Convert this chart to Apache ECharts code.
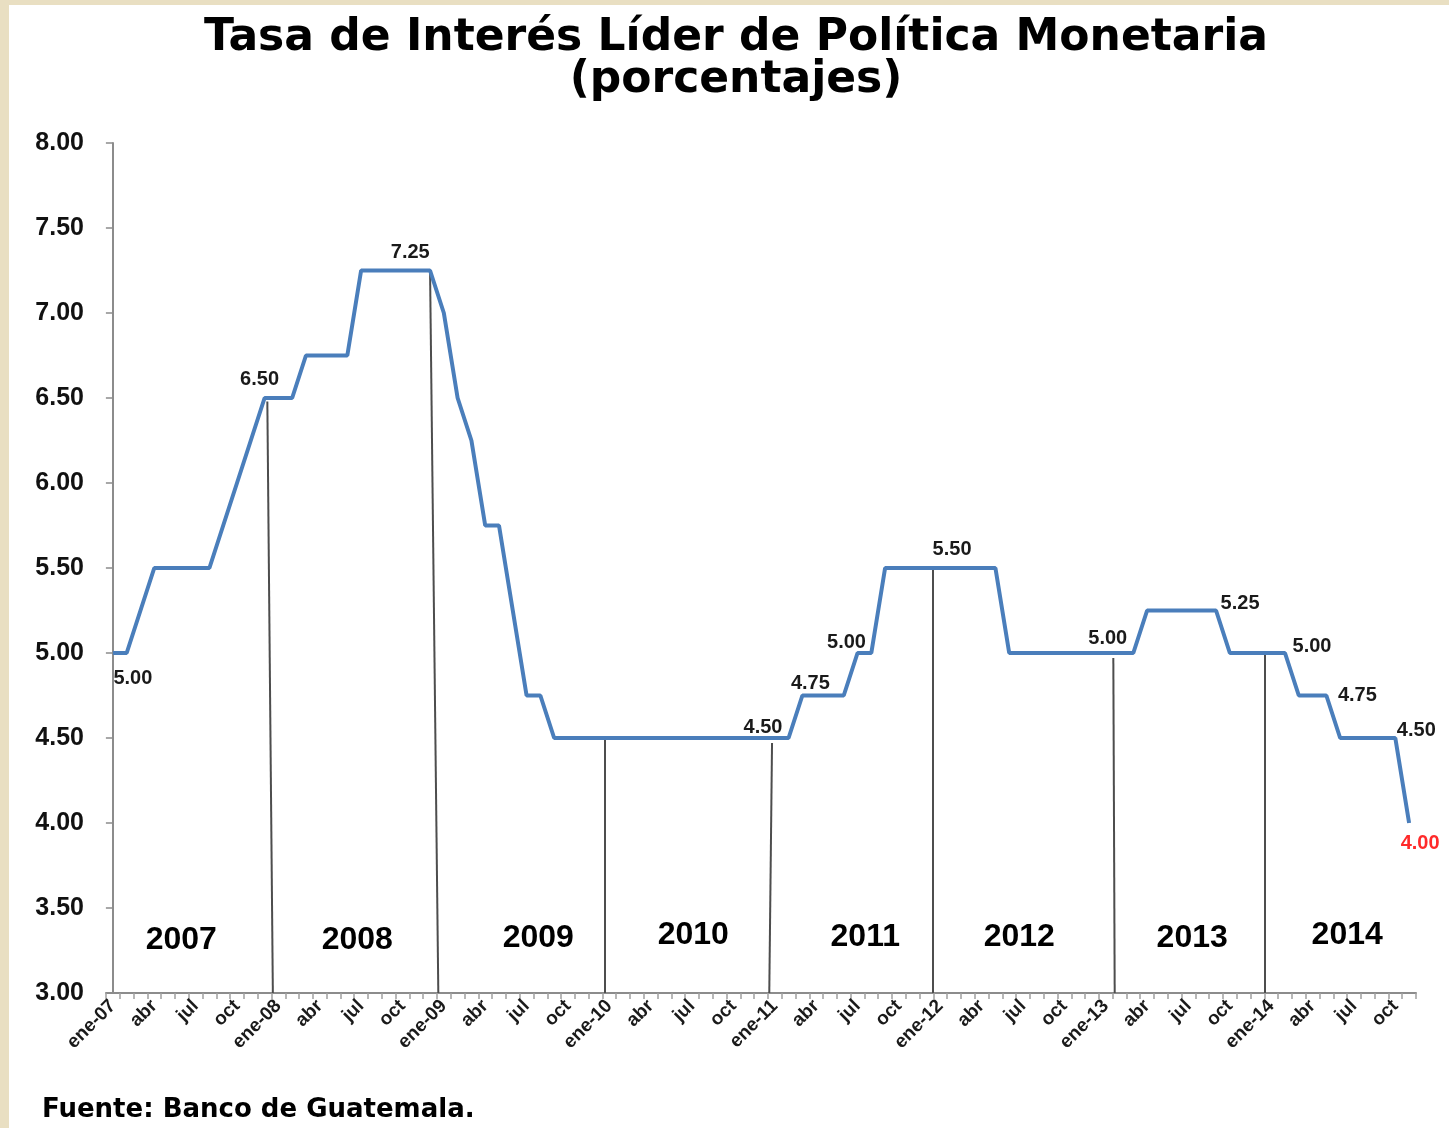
<!DOCTYPE html>
<html>
<head>
<meta charset="utf-8">
<script src="https://cdn.jsdelivr.net/npm/echarts@6/dist/echarts.min.js"></script>
<style>
  html, body { margin: 0; padding: 0; background: #e9dfc2; }
  #main { position: absolute; left: 9px; top: 5px; width: 1440px; height: 1123px; background: #fff; }
</style>
</head>
<body>
<div id="main"></div>
<script>
// meses y años del eje
var monthNames = ['ene', 'feb', 'mar', 'abr', 'may', 'jun', 'jul', 'ago', 'sep', 'oct', 'nov', 'dic'];
var yearNames = ['2007', '2008', '2009', '2010', '2011', '2012', '2013', '2014'];

// tasa lider mensual, ene-07 .. nov-14
var rates = [
    5.00, 5.00, 5.25, 5.50, 5.50, 5.50, 5.50, 5.50, 5.75, 6.00, 6.25, 6.50,
    6.50, 6.50, 6.75, 6.75, 6.75, 6.75, 7.25, 7.25, 7.25, 7.25, 7.25, 7.25,
    7.00, 6.50, 6.25, 5.75, 5.75, 5.25, 4.75, 4.75, 4.50, 4.50, 4.50, 4.50,
    4.50, 4.50, 4.50, 4.50, 4.50, 4.50, 4.50, 4.50, 4.50, 4.50, 4.50, 4.50,
    4.50, 4.50, 4.75, 4.75, 4.75, 4.75, 5.00, 5.00, 5.50, 5.50, 5.50, 5.50,
    5.50, 5.50, 5.50, 5.50, 5.50, 5.00, 5.00, 5.00, 5.00, 5.00, 5.00, 5.00,
    5.00, 5.00, 5.00, 5.25, 5.25, 5.25, 5.25, 5.25, 5.25, 5.00, 5.00, 5.00,
    5.00, 5.00, 4.75, 4.75, 4.75, 4.50, 4.50, 4.50, 4.50, 4.50, 4.00
];

// puntos con etiqueta y su desplazamiento
var labelIdx = [0, 11, 22, 47, 50, 54, 61, 72, 80, 85, 88, 93, 94];
var labelOffset = [[20, 25], [-5, -19], [-6, -18], [2, -11], [8, -12], [-11, -11], [-2, -19],
    [2, -15], [24, -7], [27, -7], [31, 0], [21, -8], [11, 20]];

// lineas divisorias de año (indice de mes arriba / abajo, valor arriba)
var sepTopX = [11.2, 23.0, 35.7, 47.8, 59.45, 72.55, 83.5];
var sepBotX = [11.6, 23.6, 35.7, 47.6, 59.45, 72.65, 83.5];
var sepTopY = [6.48, 7.25, 4.50, 4.47, 5.50, 4.97, 5.00];

// posicion de los rotulos de año (indice de mes)
var yearX = [4.96, 17.72, 30.85, 42.09, 54.56, 65.73, 78.27, 89.51];
var yearY = [3.31, 3.31, 3.32, 3.34, 3.33, 3.33, 3.32, 3.34];

var categories = [];
for (var i = 0; i < rates.length; i++) {
    var m = i % 12;
    var yy = String(7 + Math.floor(i / 12));
    if (yy.length < 2) yy = '0' + yy;
    categories.push(m === 0 ? monthNames[m] + '-' + yy : monthNames[m]);
}

var labelData = [];
for (var k = 0; k < labelIdx.length; k++) {
    var i = labelIdx[k];
    labelData.push({
        value: [i, rates[i]],
        label: {
            offset: labelOffset[k],
            color: i === rates.length - 1 ? '#ff2a2a' : '#1a1a1a'
        }
    });
}

var sepData = [];
for (var i = 0; i < sepTopX.length; i++) {
    sepData.push({ coords: [[sepTopX[i], sepTopY[i]], [sepBotX[i], 3]] });
}

var yearData = [];
for (var i = 0; i < yearNames.length; i++) {
    yearData.push([yearX[i], yearY[i], yearNames[i]]);
}

var myChart = echarts.init(document.getElementById('main'));

var option = {
    animation: false,
    backgroundColor: '#fff',
    graphic: [
        {
            type: 'text', x: 727, y: 34,
            style: {
                text: 'Tasa de Interés Líder de Política Monetaria',
                font: 'bold 44px "DejaVu Sans"', fill: '#000',
                align: 'center', verticalAlign: 'middle'
            }
        },
        {
            type: 'text', x: 727, y: 76,
            style: {
                text: '(porcentajes)',
                font: 'bold 44px "DejaVu Sans"', fill: '#000',
                align: 'center', verticalAlign: 'middle'
            }
        },
        {
            type: 'text', x: 33, y: 1105,
            style: {
                text: 'Fuente: Banco de Guatemala.',
                font: 'bold 26px "DejaVu Sans"', fill: '#000',
                align: 'left', verticalAlign: 'middle'
            }
        }
    ],
    grid: { left: 97, right: 33, top: 138, bottom: 135, containLabel: false, outerBoundsMode: 'none' },
    xAxis: [{
        type: 'category',
        data: categories,
        boundaryGap: true,
        axisLine: { lineStyle: { color: '#8c8c8c', width: 2 } },
        axisTick: { show: true, interval: 0, length: 6, lineStyle: { color: '#a0a0a0', width: 1.5 } },
        axisLabel: {
            interval: 2, rotate: 45, margin: 10,
            fontFamily: '"Liberation Sans", Arial', fontWeight: 'bold', fontSize: 19, color: '#1a1a1a'
        },
        splitLine: { show: false }
    }, {
        type: 'value',
        min: -0.5, max: rates.length - 0.5,
        show: false
    }],
    yAxis: {
        type: 'value',
        min: 3, max: 8, interval: 0.5,
        axisLine: { show: true, lineStyle: { color: '#8c8c8c', width: 2 } },
        axisTick: { show: true, length: 7, lineStyle: { color: '#8c8c8c', width: 1.5 } },
        axisLabel: {
            margin: 22,
            formatter: function (v) { return v.toFixed(2); },
            fontFamily: '"Liberation Sans", Arial', fontWeight: 'bold', fontSize: 25, color: '#111'
        },
        splitLine: { show: false }
    },
    series: [
        {
            name: 'separadores',
            type: 'lines',
            coordinateSystem: 'cartesian2d',
            xAxisIndex: 1,
            z: 1,
            lineStyle: { color: '#4d4d4d', width: 2, opacity: 1 },
            data: sepData
        },
        {
            name: 'años',
            type: 'scatter',
            xAxisIndex: 1,
            symbolSize: 1,
            z: 3,
            itemStyle: { color: 'rgba(0,0,0,0)', opacity: 1 },
            label: {
                show: true, position: 'inside',
                formatter: function (p) { return p.value[2]; },
                fontFamily: '"Liberation Sans", Arial', fontWeight: 'bold', fontSize: 32, color: '#000'
            },
            emphasis: { disabled: true },
            data: yearData
        },
        {
            name: 'Tasa líder',
            type: 'line',
            data: rates,
            z: 5,
            showSymbol: false,
            itemStyle: { color: '#4a7ebb' },
            lineStyle: { color: '#4a7ebb', width: 4 },
            emphasis: { disabled: true }
        },
        {
            name: 'etiquetas',
            type: 'scatter',
            symbolSize: 1,
            z: 6,
            itemStyle: { color: 'rgba(0,0,0,0)', opacity: 1 },
            label: {
                show: true, position: 'inside',
                formatter: function (p) { return p.value[1].toFixed(2); },
                fontFamily: '"Liberation Sans", Arial', fontWeight: 'bold', fontSize: 20
            },
            emphasis: { disabled: true },
            data: labelData
        }
    ]
};

myChart.setOption(option);
</script>
</body>
</html>
